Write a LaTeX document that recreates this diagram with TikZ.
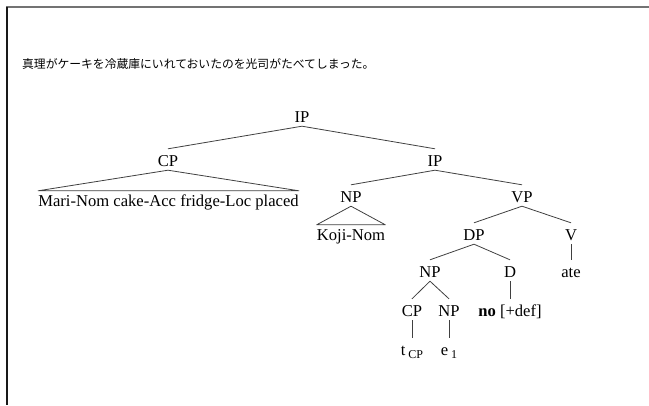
\documentclass[tikz,border=0pt]{standalone}
\usepackage{fontspec}
\setmainfont{Liberation Serif}
\newfontfamily\jpfont{Noto Sans CJK JP}
\begin{document}
\begin{tikzpicture}[x=1pt,y=-1pt,
  lab/.style={anchor=base, inner sep=0pt, text height=17pt, text depth=4pt, font=\fontsize{16.6}{20}\selectfont},
  roof/.style={lab, text height=15pt},
  br/.style={draw=black!75, line width=0.8pt, line join=round}]
\useasboundingbox (0,0) rectangle (649,405);
\draw[black!55, line width=1.6pt] (6,7) -- (649,7);
\draw[black!90, line width=1.4pt] (7,6.5) -- (7,405);
\node[anchor=base west, inner sep=0pt, font=\jpfont\fontsize{11.8}{12}\selectfont] (jp) at (22,68) {真理がケーキを冷蔵庫にいれておいたのを光司がたべてしまった。};
\node[lab] (ip0) at (302,122) {IP};
\node[lab] (cp1) at (168,166) {CP};
\node[roof] (mari) at (168.5,206) {Mari-Nom cake-Acc fridge-Loc placed};
\node[lab] (ip1) at (435,166) {IP};
\node[lab] (np1) at (351,202) {NP};
\node[roof] (koji) at (351,240) {Koji-Nom};
\node[lab] (vp) at (522,202) {VP};
\node[lab] (dp) at (474,240) {DP};
\node[lab] (v) at (571,240) {V};
\node[lab] (np2) at (430,277) {NP};
\node[lab] (d) at (510,277) {D};
\node[lab] (ate) at (571,277) {ate};
\node[lab] (cp2) at (412,316) {CP};
\node[lab] (np3) at (449,316) {NP};
\node[lab] (no) at (510,316) {\textbf{no} [+def]};
\node[lab] (t) at (412,355) {t\,\raisebox{-3pt}{\fontsize{12}{12}\selectfont CP}};
\node[lab] (e) at (449,355) {e\,\raisebox{-3pt}{\fontsize{12}{12}\selectfont 1}};
\draw[br] (cp1.north) -- (ip0.south) -- (ip1.north);
\draw[br] (mari.north west) -- (cp1.south) -- (mari.north east) -- cycle;
\draw[br] (np1.north) -- (ip1.south) -- (vp.north);
\draw[br] (koji.north west) -- (np1.south) -- (koji.north east) -- cycle;
\draw[br] (dp.north) -- (vp.south) -- (v.north);
\draw[br] (v.south) -- (ate.north);
\draw[br] (np2.north) -- (dp.south) -- (d.north);
\draw[br] (d.south) -- (no.north);
\draw[br] (cp2.north) -- (np2.south) -- (np3.north);
\draw[br] (cp2.south) -- (t.north);
\draw[br] (np3.south) -- (e.north);
\end{tikzpicture}
\end{document}
